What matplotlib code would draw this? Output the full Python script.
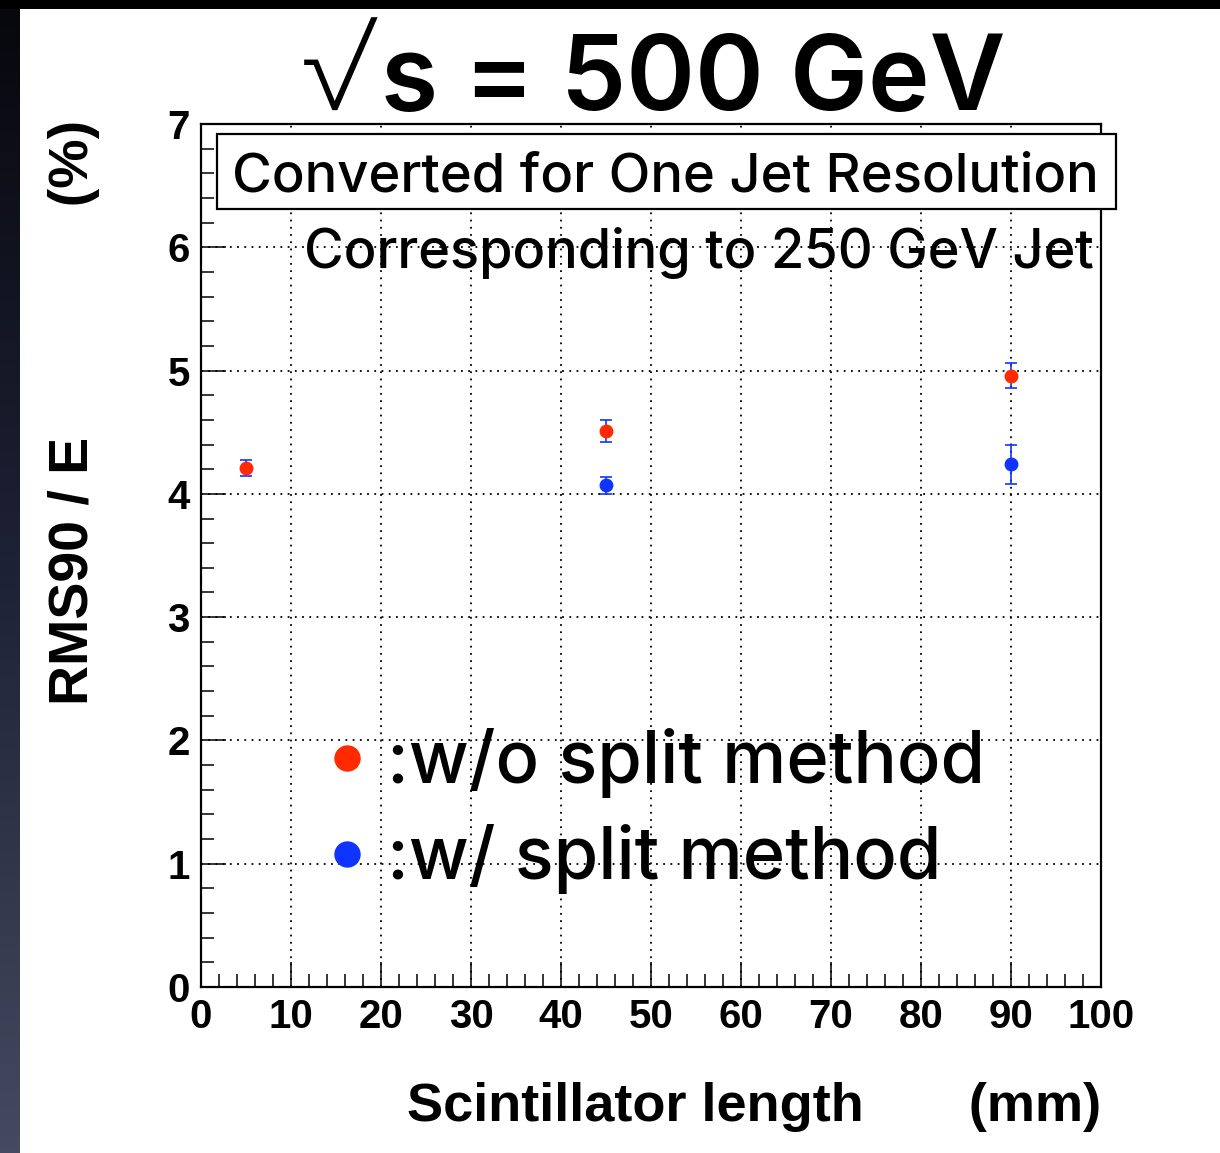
import numpy as np
import matplotlib
matplotlib.use("Agg")
import matplotlib.pyplot as plt
from matplotlib.lines import Line2D
from matplotlib.patches import Rectangle

# data
length_wo = [5, 45, 90]
res_wo = [4.21, 4.51, 4.96]
err_wo = [0.065, 0.09, 0.10]

length_w = [45, 90]
res_w = [4.07, 4.24]
err_w = [0.07, 0.16]

labels = [":w/o split method", ":w/ split method"]
RED = "#ff2a00"
BLUE = "#1034ff"
ROOT_FONT = ["Liberation Sans", "DejaVu Sans"]
SLIDE_FONT = ["Inter", "DejaVu Sans"]

W, H = 1220, 1153


def px(x, y):
    """pixel position (from top-left) -> figure fraction"""
    return x / W, 1 - y / H


fig = plt.figure(figsize=(W / 100, H / 100), dpi=100)
fig.patch.set_facecolor("white")

# slide frame: dark strip on the left, black bar on top
strip = fig.add_axes([0, 0, 20 / W, 1], zorder=0)
grad = np.linspace(0, 1, 256).reshape(-1, 1)
strip.imshow(grad, aspect="auto", cmap=matplotlib.colors.LinearSegmentedColormap.from_list(
    "slide", ["#07070d", "#1e2236", "#454a60"]))
strip.axis("off")
fig.patches.append(Rectangle(px(0, 9), 1, 9 / H, transform=fig.transFigure,
                             facecolor="black", edgecolor="none", zorder=1))

ax = fig.add_axes([201 / W, 1 - 987 / H, 900 / W, 863 / H], zorder=2)
ax.set_xlim(0, 100)
ax.set_ylim(0, 7)
ax.set_xticks(np.arange(0, 101, 10))
ax.set_xticks(np.arange(0, 101, 2), minor=True)
ax.set_yticks(np.arange(0, 8, 1))
ax.set_yticks(np.arange(0, 7.01, 0.2), minor=True)
ax.grid(True, which="major", color="black", linestyle=(0, (1, 3)), linewidth=1.3)
ax.tick_params(which="both", direction="in", top=False, right=False, width=1.1,
               labelsize=29, pad=8)
ax.tick_params(which="major", length=18)
ax.tick_params(which="minor", length=9.5)
for lab in ax.get_xticklabels() + ax.get_yticklabels():
    lab.set_fontweight("bold")
    lab.set_family(ROOT_FONT)
for sp in ax.spines.values():
    sp.set_linewidth(1.6)

ax.errorbar(length_wo, res_wo, yerr=err_wo, fmt="o", color=RED, ecolor=BLUE,
            markersize=9, elinewidth=1.2, capsize=4, capthick=1.2, zorder=5)
ax.errorbar(length_w, res_w, yerr=err_w, fmt="o", color=BLUE, ecolor=BLUE,
            markersize=9, elinewidth=1.2, capsize=4, capthick=1.2, zorder=5)

ax.set_xlabel("Scintillator length       (mm)", loc="right", fontsize=39,
              fontweight="bold", family=ROOT_FONT)
ax.xaxis.set_label_coords(1.0, -0.11)
ax.set_ylabel("RMS90 / E               (%)", loc="top", fontsize=40,
              fontweight="bold", family=ROOT_FONT)
ax.yaxis.set_label_coords(-0.112, 1.005)

handles = [Line2D([], [], marker="o", linestyle="none", color=c, markersize=18)
           for c in (RED, BLUE)]
leg = ax.legend(handles, labels, loc="upper left", bbox_to_anchor=(0.05, 0.375),
                frameon=False, handletextpad=0.05, handlelength=1.0, labelspacing=0.36,
                prop={"family": SLIDE_FONT, "size": 52, "weight": "medium"})

# slide annotations: tall thin radical, then the rest of the title
fig.text(*px(379, 110), "\u221a", ha="right", va="baseline",
         fontsize=92, family=SLIDE_FONT, fontweight="light")
fig.text(*px(381, 110), "s = 500 GeV", ha="left", va="baseline",
         fontsize=75, family=SLIDE_FONT, fontweight="semibold")
fig.patches.append(Rectangle(px(217, 209), 899 / W, 75 / H, transform=fig.transFigure,
                             facecolor="white", edgecolor="black", linewidth=1.6, zorder=3))
fig.text(*px(665, 192), "Converted for One Jet Resolution", ha="center", va="baseline",
         fontsize=39.2, family=SLIDE_FONT, fontweight="medium", zorder=4)
fig.text(*px(699, 268), "Corresponding to 250 GeV Jet", ha="center", va="baseline",
         fontsize=39, family=SLIDE_FONT, fontweight="medium", zorder=4)

fig.savefig("out.png", dpi=100)
